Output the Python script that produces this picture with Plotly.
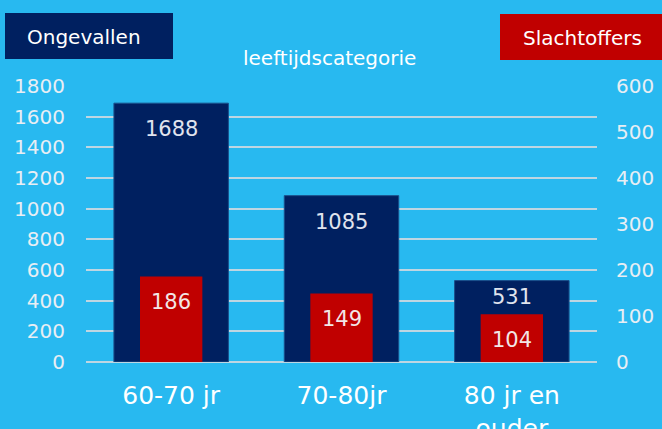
import plotly.graph_objects as go

categories = ["60-70 jr", "70-80jr", "80 jr en ouder"]
category_labels = ["60-70 jr", "70-80jr", "80 jr en<br>ouder"]
ongevallen = [1688, 1085, 531]
slachtoffers = [186, 149, 104]
left_ticks = [0, 200, 400, 600, 800, 1000, 1200, 1400, 1600, 1800]
right_ticks = [0, 100, 200, 300, 400, 500, 600]

BG = "#28B9F0"
NAVY = "#002060"
RED = "#C00000"
FONT = "DejaVu Sans"
TXT = "#E8EEF4"

fig = go.Figure()
fig.add_trace(go.Bar(x=categories, y=ongevallen, width=0.672, marker=dict(color=NAVY, line=dict(color="#1B4F8A", width=1)),
                     yaxis="y", name="Ongevallen", hoverinfo="x+y"))
fig.add_trace(go.Bar(x=categories, y=slachtoffers, width=0.366, marker=dict(color=RED, line=dict(width=0)),
                     yaxis="y2", name="Slachtoffers", hoverinfo="x+y"))

annotations = []
navy_shift = [-26, -26, -16]
for c, v, s in zip(categories, ongevallen, navy_shift):
    annotations.append(dict(x=c, y=v, xref="x", yref="y", text=str(v), showarrow=False, yshift=s,
                            xanchor="center", yanchor="middle",
                            font=dict(family=FONT, size=21, color="#E0E4EE")))
for c, v in zip(categories, slachtoffers):
    annotations.append(dict(x=c, y=v, xref="x", yref="y2", text=str(v), showarrow=False, yshift=-26,
                            xanchor="center", yanchor="middle",
                            font=dict(family=FONT, size=21, color="#F2E6E6")))

# plot area: x 86..597, y 86..362
def px(x):
    return (x - 86) / 511.0

def py(y):
    return (362 - y) / 276.0

for text, x, y in [("Ongevallen", 84, 37), ("Slachtoffers", 582, 38), ("leeftijdscategorie", 329, 58)]:
    annotations.append(dict(x=px(x), y=py(y), xref="paper", yref="paper", text=text, showarrow=False,
                            xanchor="center", yanchor="middle",
                            font=dict(family=FONT, size=20, color="white")))

shapes = [
    dict(type="rect", xref="paper", yref="paper", x0=px(5), x1=px(173), y0=py(59), y1=py(13),
         fillcolor=NAVY, line=dict(width=0), layer="below"),
    dict(type="rect", xref="paper", yref="paper", x0=px(500), x1=px(664), y0=py(60), y1=py(14),
         fillcolor=RED, line=dict(width=0), layer="below"),
]

fig.update_layout(
    width=662, height=429,
    margin=dict(l=86, r=65, t=86, b=67, autoexpand=False),
    paper_bgcolor=BG, plot_bgcolor=BG,
    barmode="overlay", showlegend=False,
    font=dict(family=FONT, color=TXT),
    annotations=annotations, shapes=shapes,
    xaxis=dict(type="category", categoryorder="array", categoryarray=categories,
               tickvals=categories, ticktext=category_labels, tickfont=dict(size=25, color="white"),
               showgrid=False, showline=False, ticks="", ticklabelstandoff=16, range=[-0.5, 2.5]),
    yaxis=dict(range=[0, 1800], tickvals=left_ticks, tickfont=dict(size=20, color=TXT),
               showgrid=True, gridcolor="#BFD6E2", gridwidth=1.5, zeroline=True, zerolinecolor="#BFD6E2",
               zerolinewidth=1.5, ticks="", ticklabelstandoff=20, showline=False),
    yaxis2=dict(range=[0, 600], tickvals=right_ticks, overlaying="y", side="right", tickfont=dict(size=20, color=TXT),
                showgrid=False, zeroline=False, ticks="", ticklabelstandoff=18, showline=False),
)

fig.write_html("out.html", config={"displayModeBar": False},
               post_script="document.body.style.margin='0';document.body.style.overflow='hidden';")
